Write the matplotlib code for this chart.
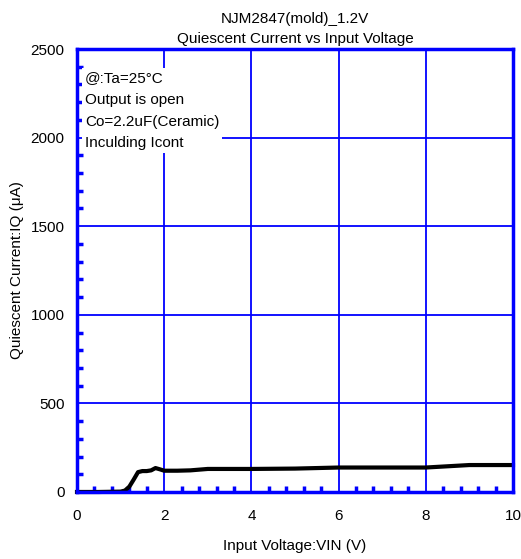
import matplotlib
matplotlib.use("Agg")
import matplotlib.pyplot as plt
from matplotlib.ticker import MultipleLocator

plt.rcParams['font.family'] = ['Liberation Sans', 'DejaVu Sans']

# Quiescent current vs input voltage
vin = [0, 0.5, 1.0, 1.1, 1.2, 1.3, 1.4, 1.5, 1.6, 1.7, 1.8, 1.9, 2.0, 2.3, 2.6, 3.0, 4.0, 5.0, 6.0, 7.0, 8.0, 9.0, 10.0]
iq = [0, 0, 2, 8, 30, 70, 112, 118, 118, 122, 135, 128, 120, 120, 122, 130, 130, 132, 138, 138, 138, 152, 152]

notes = ["@:Ta=25°C", "Output is open", "Co=2.2uF(Ceramic)", "Inculding Icont"]

blue = "#0000ff"
fs = 11
fig = plt.figure(figsize=(5.21, 5.59), dpi=100)
ax = fig.add_axes([0.1478, 0.1199, 0.8368, 0.7924])

ax.plot(vin, iq, color="black", lw=3, zorder=3, clip_on=False)

ax.set_xlim(0, 10)
ax.set_ylim(0, 2500)
ax.xaxis.set_major_locator(MultipleLocator(2))
ax.xaxis.set_minor_locator(MultipleLocator(0.4))
ax.yaxis.set_major_locator(MultipleLocator(500))
ax.yaxis.set_minor_locator(MultipleLocator(100))
ax.grid(True, which="major", color=blue, lw=1.3)
ax.set_axisbelow(True)
for s in ax.spines.values():
    s.set_color(blue)
    s.set_linewidth(2.5)
    s.set_zorder(4)
ax.tick_params(which="both", direction="in", color=blue, labelsize=fs)
ax.tick_params(axis="x", pad=12)
ax.tick_params(axis="y", pad=9)
ax.tick_params(which="major", length=0)
ax.tick_params(which="minor", length=4, width=2.5)

ax.set_xlabel("Input Voltage:VIN (V)", fontsize=fs, labelpad=12)
ax.set_ylabel("Quiescent Current:IQ (μA)", fontsize=fs, labelpad=5)
ax.set_title("NJM2847(mold)_1.2V\nQuiescent Current vs Input Voltage", fontsize=fs, linespacing=1.6, pad=4)

ax.text(0.018, 0.95, "\n".join(notes), transform=ax.transAxes, fontsize=fs, va="top", ha="left",
        linespacing=1.7, zorder=5,
        bbox=dict(facecolor="white", edgecolor="none", pad=2))

fig.savefig("out.png", dpi=100)
